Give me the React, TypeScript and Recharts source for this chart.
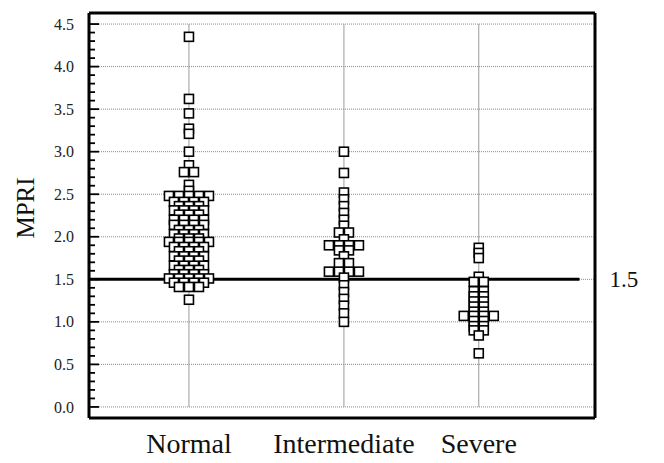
import React from "react";
import {
  ScatterChart,
  Scatter,
  XAxis,
  YAxis,
  ReferenceLine,
  Label,
} from "recharts";

const categories = ["Normal", "Intermediate", "Severe"];
const categoryPositions = [1, 2, 2.87];

const normalValues = [
  4.35, 3.62, 3.45, 3.27, 3.21, 3.0, 2.84, 2.76, 2.76, 2.61, 2.54,
  2.48, 2.48, 2.48, 2.48, 2.48,
  2.41, 2.41, 2.41, 2.41,
  2.36, 2.36, 2.36,
  2.31, 2.31, 2.31, 2.31,
  2.26, 2.26, 2.26,
  2.2, 2.2, 2.2, 2.2,
  2.14, 2.14, 2.14, 2.14,
  2.08, 2.08, 2.08,
  2.03, 2.03, 2.03, 2.03,
  1.98, 1.98, 1.98,
  1.94, 1.94, 1.94, 1.94, 1.94,
  1.88, 1.88, 1.88, 1.88,
  1.83, 1.83, 1.83,
  1.77, 1.77, 1.77, 1.77,
  1.72, 1.72, 1.72,
  1.66, 1.66, 1.66, 1.66,
  1.61, 1.61, 1.61,
  1.56, 1.56, 1.56, 1.56,
  1.51, 1.51, 1.51, 1.51, 1.51,
  1.46, 1.46, 1.46, 1.46,
  1.41, 1.41, 1.41,
  1.26,
];

const intermediateValues = [
  3.0, 2.75, 2.52, 2.44, 2.36, 2.28, 2.2, 2.13,
  2.05, 2.05,
  1.97,
  1.9, 1.9, 1.9, 1.9,
  1.84, 1.84,
  1.77,
  1.69, 1.69,
  1.59, 1.59, 1.59, 1.59,
  1.52,
  1.43, 1.35, 1.27, 1.19, 1.1, 1.0,
];

const severeValues = [
  1.87, 1.81, 1.75, 1.53,
  1.47, 1.47,
  1.36, 1.36,
  1.3, 1.3,
  1.24, 1.24,
  1.18, 1.18,
  1.12, 1.12,
  1.07, 1.07, 1.07, 1.07,
  1.01, 1.01,
  0.95, 0.95,
  0.9, 0.9,
  0.84, 0.63,
];

const yTicks = [0, 0.5, 1.0, 1.5, 2.0, 2.5, 3.0, 3.5, 4.0, 4.5];
const cutoff = 1.5;

const X_DOMAIN: [number, number] = [0.355, 3.62];
const Y_DOMAIN: [number, number] = [-0.13, 4.63];
const FONT = "Liberation Serif, Times New Roman, serif";
const PITCH = 10;
const BOX = 9;
const LEFT = 89;

// equal values sit side by side, centred on the category line
function layoutGroup(values: number[], pos: number) {
  const counts: Record<string, number> = {};
  values.forEach((v) => {
    counts[v] = (counts[v] || 0) + 1;
  });
  const seen: Record<string, number> = {};
  return values.map((v) => {
    const i = seen[v] || 0;
    seen[v] = i + 1;
    return { x: pos, y: v, slot: i - (counts[v] - 1) / 2 };
  });
}

const groups = [normalValues, intermediateValues, severeValues].map((vals, i) =>
  layoutGroup(vals, categoryPositions[i])
);

// axis ticks every 0.1, drawn inside the frame; the ones on yTicks are longer
const axisMarks: { x: number; y: number; major: boolean }[] = [];
for (let i = 0; i < yTicks.length - 1; i++) {
  const step = (yTicks[i + 1] - yTicks[i]) / 5;
  for (let k = 0; k < 5; k++)
    axisMarks.push({ x: X_DOMAIN[0], y: +(yTicks[i] + k * step).toFixed(2), major: k === 0 });
}
axisMarks.push({ x: X_DOMAIN[0], y: yTicks[yTicks.length - 1], major: true });

function SquareDot(props: any) {
  const { cx, cy, payload } = props;
  if (cx == null || cy == null) return null;
  const x = cx + payload.slot * PITCH;
  return (
    <rect
      x={x - BOX / 2}
      y={cy - BOX / 2}
      width={BOX}
      height={BOX}
      fill="#fff"
      stroke="#000"
      strokeWidth={1.6}
    />
  );
}

function TickMark(props: any) {
  const { cx, cy, payload } = props;
  if (cx == null || cy == null) return null;
  return (
    <line
      x1={cx}
      x2={cx + (payload.major ? 10 : 6)}
      y1={cy}
      y2={cy}
      stroke="#000"
      strokeWidth={1.8}
    />
  );
}

function YTick(props: any) {
  const { y, payload } = props;
  return (
    <text
      x={LEFT - 15}
      y={y}
      dy="0.35em"
      textAnchor="end"
      fontSize={16}
      fontFamily={FONT}
      fill="#222"
    >
      {payload.value.toFixed(1)}
    </text>
  );
}

function XTick(props: any) {
  const { x, y, payload } = props;
  const idx = categoryPositions.indexOf(payload.value);
  return (
    <text x={x} y={y + 35} textAnchor="middle" fontSize={28} fontFamily={FONT} fill="#111">
      {categories[idx]}
    </text>
  );
}

function MpriLabel() {
  return (
    <text
      x={25}
      y={208}
      transform="rotate(-90 25 208)"
      textAnchor="middle"
      dominantBaseline="central"
      fontSize={25}
      fontFamily={FONT}
      fill="#111"
    >
      MPRI
    </text>
  );
}

export default function App() {
  return (
    <div style={{ position: "absolute", left: 0, top: 0, background: "#fff" }}>
      <ScatterChart
        width={664}
        height={463}
        margin={{ top: 13, right: 69, bottom: 0, left: 0 }}
      >
        <XAxis
          type="number"
          dataKey="x"
          domain={X_DOMAIN}
          ticks={categoryPositions}
          allowDataOverflow
          axisLine={false}
          tickLine={false}
          tickSize={0}
          tickMargin={0}
          height={45}
          tick={<XTick />}
        />
        <YAxis
          type="number"
          dataKey="y"
          domain={Y_DOMAIN}
          ticks={yTicks}
          allowDataOverflow
          interval={0}
          axisLine={false}
          tickLine={false}
          tickSize={0}
          tickMargin={0}
          width={LEFT}
          tick={<YTick />}
        >
          <Label content={<MpriLabel />} />
        </YAxis>
        {yTicks.map((t) => (
          <ReferenceLine
            key={"h" + t}
            y={t}
            stroke="#8a8a8a"
            strokeWidth={1}
            strokeDasharray="1 1"
          />
        ))}
        {categoryPositions.map((p) => (
          <ReferenceLine
            key={"v" + p}
            segment={[
              { x: p, y: 0 },
              { x: p, y: 4.5 },
            ]}
            stroke="#9a9a9a"
            strokeWidth={1}
          />
        ))}
        <Scatter
          name="axis ticks"
          data={axisMarks}
          shape={<TickMark />}
          isAnimationActive={false}
        />
        {groups.map((data, i) => (
          <Scatter
            key={categories[i]}
            name={categories[i]}
            data={data}
            shape={<SquareDot />}
            isAnimationActive={false}
          />
        ))}
        <ReferenceLine
          segment={[
            { x: X_DOMAIN[0], y: cutoff },
            { x: 3.52, y: cutoff },
          ]}
          stroke="#000"
          strokeWidth={3}
          label={{
            value: "1.5",
            position: "right",
            offset: 30,
            fill: "#111",
            fontSize: 23,
            fontFamily: FONT,
          }}
        />
        {/* frame */}
        <ReferenceLine y={Y_DOMAIN[1]} stroke="#000" strokeWidth={3} />
        <ReferenceLine y={Y_DOMAIN[0]} stroke="#000" strokeWidth={3} />
        <ReferenceLine x={X_DOMAIN[0]} stroke="#000" strokeWidth={3} />
        <ReferenceLine x={X_DOMAIN[1]} stroke="#000" strokeWidth={3} />
      </ScatterChart>
    </div>
  );
}
